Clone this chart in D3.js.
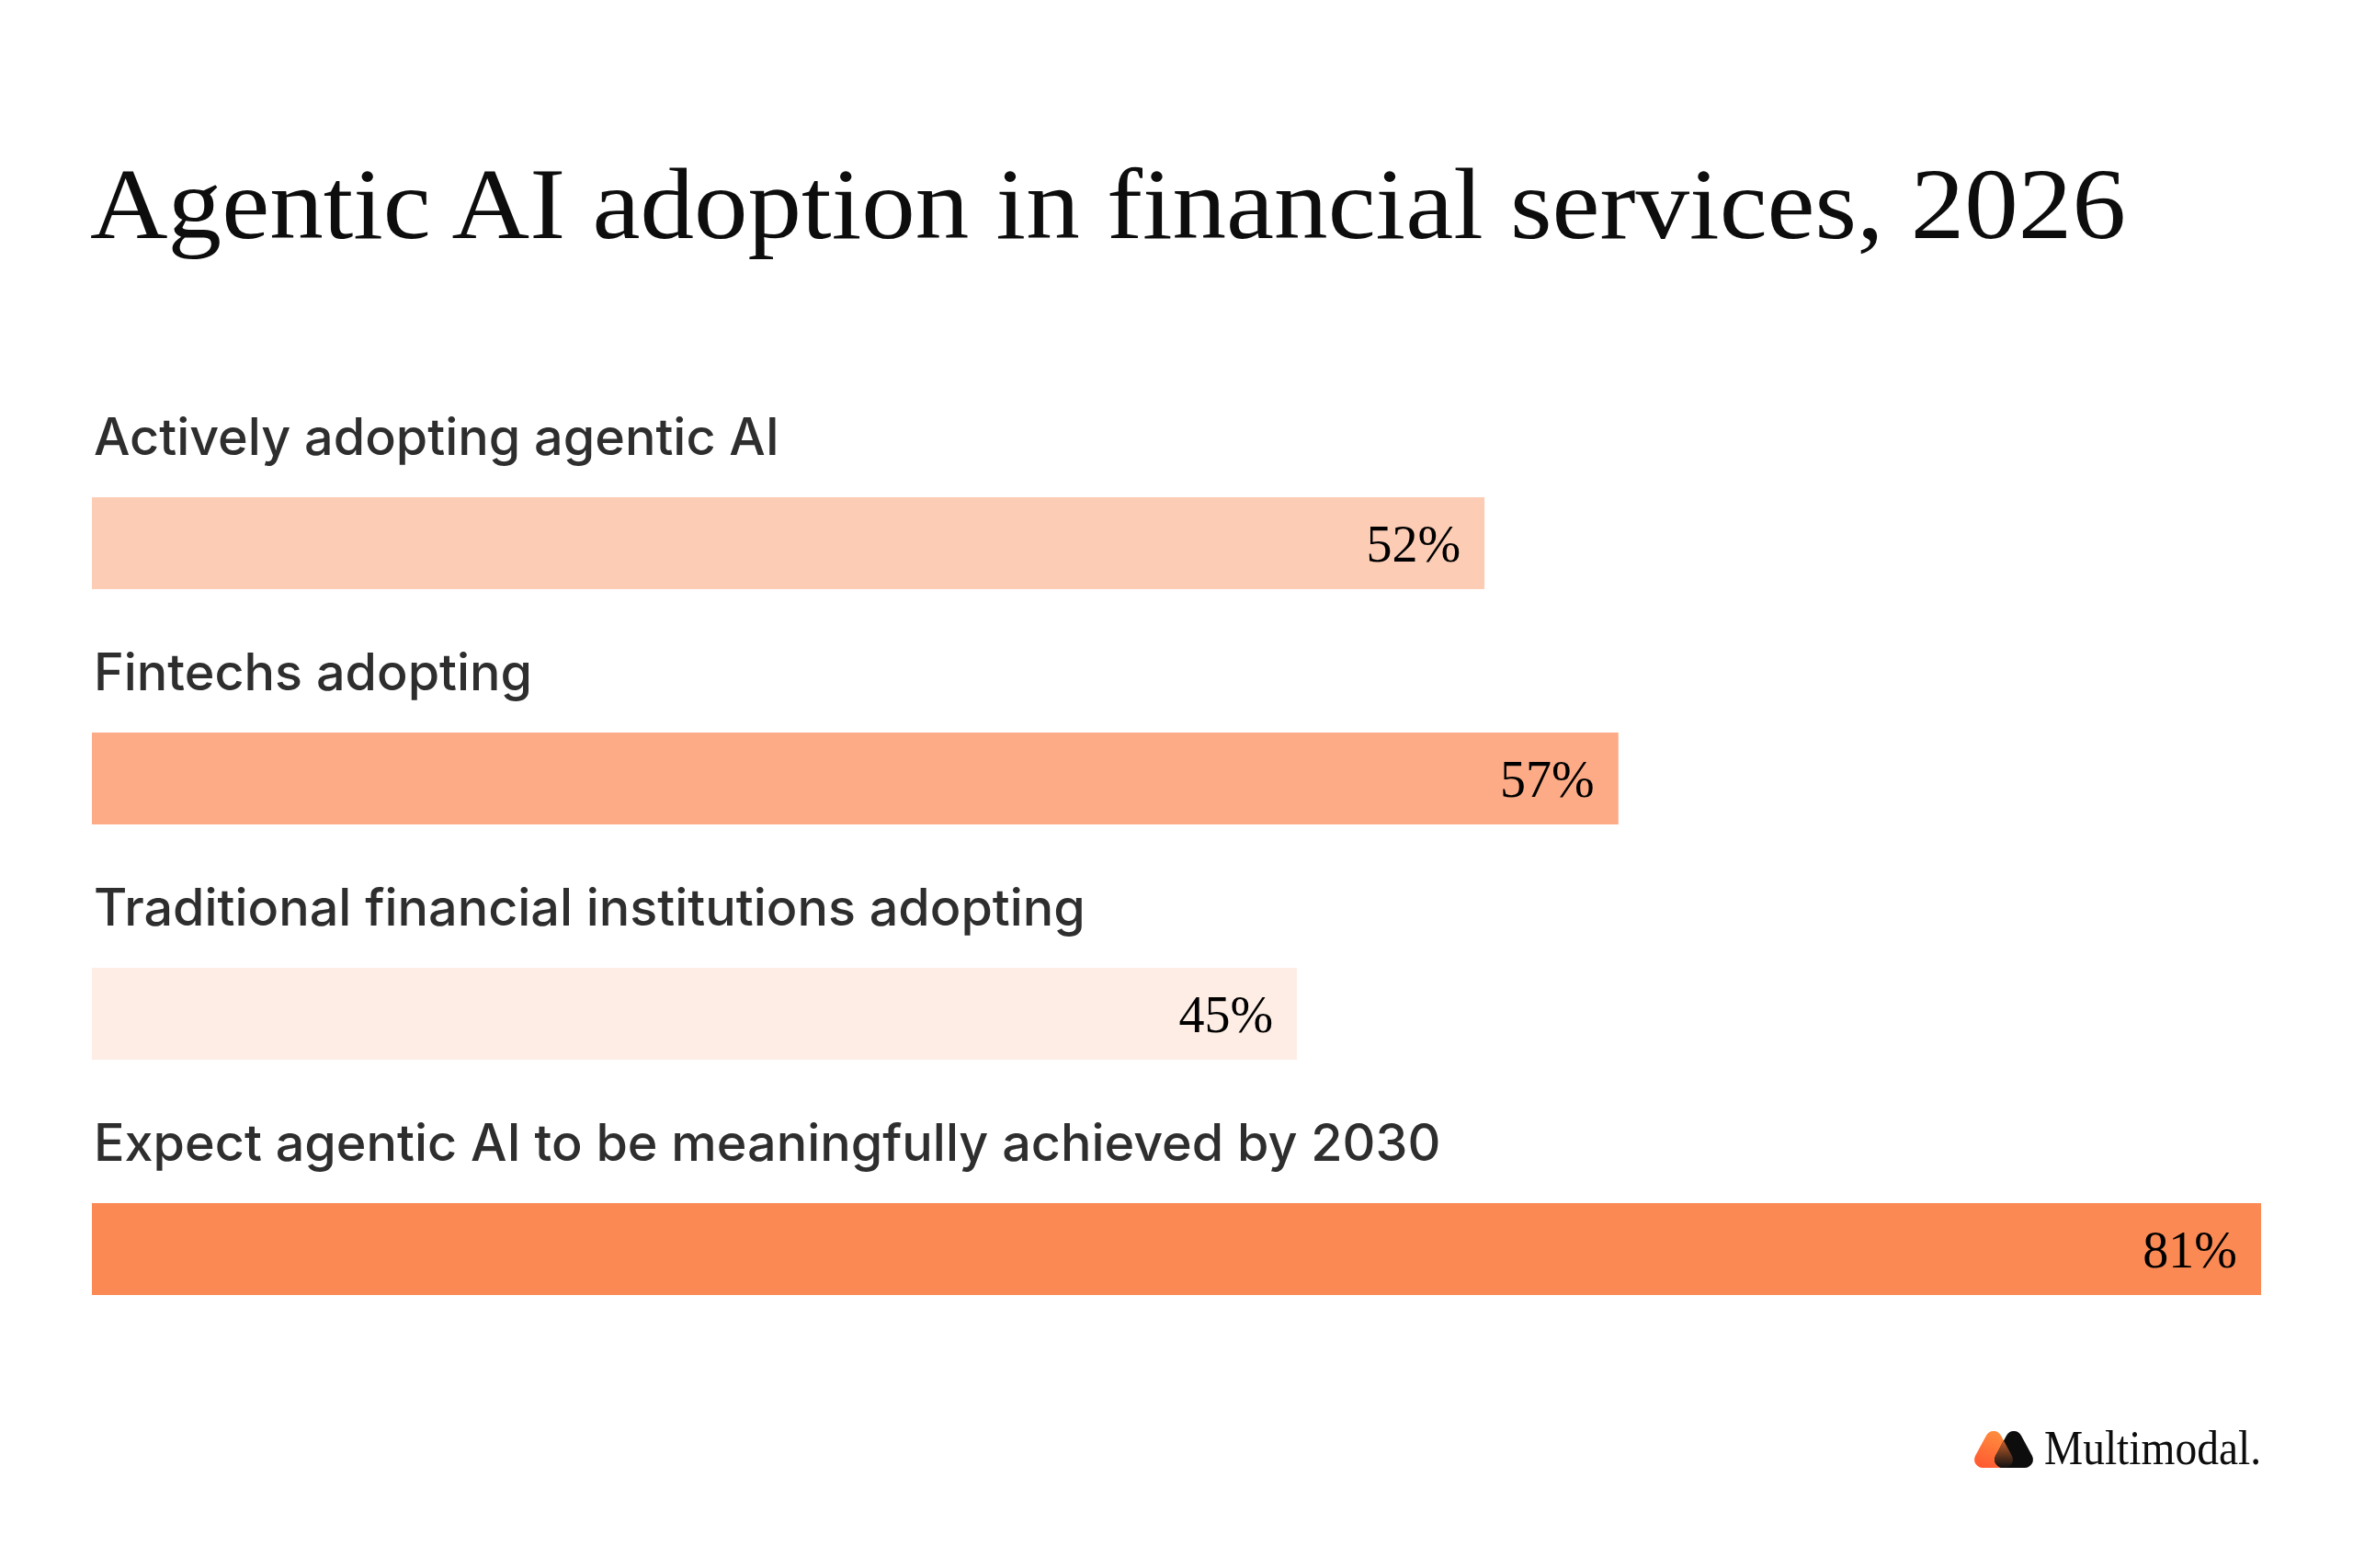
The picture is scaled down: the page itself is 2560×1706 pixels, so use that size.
<!DOCTYPE html>
<html>
<head>
<meta charset="utf-8">
<script src="https://cdn.jsdelivr.net/npm/d3@7"></script>
<style>
  html, body { margin: 0; padding: 0; background: #ffffff; }
  svg { display: block; }
</style>
</head>
<body>
<div id="chart"></div>
<script>
// chart data
const categories = [
  "Actively adopting agentic AI",
  "Fintechs adopting",
  "Traditional financial institutions adopting",
  "Expect agentic AI to be meaningfully achieved by 2030"
];
const values = [52, 57, 45, 81];
const barColors = ["#FCCCB5", "#FCAB86", "#FEEDE5", "#FB8953"];
const titleText = "Agentic AI adoption in financial services, 2026";
const brandText = "Multimodal.";

const W = 2560, H = 1706;
const left = 100;

const svg = d3.select("#chart").append("svg")
  .attr("width", W).attr("height", H)
  .attr("viewBox", `0 0 ${W} ${H}`);

// scales
const x = d3.scaleLinear().domain([0, d3.max(values)]).range([left, 2460]);
const row = d3.scaleBand().domain(categories).range([430, 430 + 256 * categories.length]).paddingInner(0);
const barH = 100;

// title
const title = svg.append("text")
  .attr("x", 98).attr("y", 259)
  .attr("font-family", "'Liberation Serif', serif")
  .attr("font-size", 110)
  .attr("fill", "#0d0d0d")
  .text(titleText);
fitWidth(title, 2215);

// rows
const rows = svg.selectAll("g.row")
  .data(categories.map((c, i) => ({ cat: c, val: values[i], color: barColors[i] })))
  .join("g")
  .attr("class", "row")
  .attr("transform", d => `translate(0,${row(d.cat)})`);

rows.append("text")
  .attr("class", "label")
  .attr("x", 102).attr("y", 65)
  .attr("font-family", "Inter, 'Noto Sans', sans-serif")
  .attr("font-size", 55)
  .attr("font-weight", 500)
  .attr("fill", "#2e2e2e")
  .text(d => d.cat);

rows.append("rect")
  .attr("x", x(0)).attr("y", 111)
  .attr("width", d => x(d.val) - x(0))
  .attr("height", barH)
  .attr("fill", d => d.color);

rows.append("text")
  .attr("x", d => x(d.val) - 26)
  .attr("y", 111 + barH / 2 + 20)
  .attr("text-anchor", "end")
  .attr("font-family", "'Liberation Serif', serif")
  .attr("font-size", 56)
  .attr("fill", "#000")
  .text(d => d.val + "%");

// fit the longest label to the measured width, apply same size to all
const longest = rows.selectAll("text.label").filter(d => d.cat === categories[3]);
const lw = longest.node().getComputedTextLength();
const k = 1466 / lw;
rows.selectAll("text.label").attr("font-size", 55 * Math.min(1.08, Math.max(0.92, k)));

// brand logo
const defs = svg.append("defs");
const grad = defs.append("linearGradient").attr("id", "orangeGrad")
  .attr("x1", 0).attr("y1", 1).attr("x2", 0.4).attr("y2", 0);
grad.append("stop").attr("offset", 0).attr("stop-color", "#FF5630");
grad.append("stop").attr("offset", 1).attr("stop-color", "#FF8A3D");
const mix = defs.append("linearGradient").attr("id", "mixGrad")
  .attr("x1", 0).attr("y1", 0).attr("x2", 0).attr("y2", 1);
mix.append("stop").attr("offset", 0).attr("stop-color", "#FF7A35");
mix.append("stop").attr("offset", 1).attr("stop-color", "#111");

function roundedTri(cx, top, bottom, halfW, r) {
  const p = d3.path();
  const a = [cx, top], b = [cx + halfW, bottom], c = [cx - halfW, bottom];
  p.moveTo((a[0] + c[0]) / 2, (a[1] + c[1]) / 2);
  p.arcTo(a[0], a[1], b[0], b[1], r);
  p.arcTo(b[0], b[1], c[0], c[1], r);
  p.arcTo(c[0], c[1], a[0], a[1], r);
  p.closePath();
  return p.toString();
}

const triL = roundedTri(2169, 1547, 1597, 27, 9);
const triR = roundedTri(2191, 1547, 1597, 27, 9);
defs.append("clipPath").attr("id", "clipL").append("path").attr("d", triL);

svg.append("path").attr("d", triL).attr("fill", "url(#orangeGrad)");
svg.append("path").attr("d", triR).attr("fill", "#0d0d0d");
svg.append("path").attr("d", triR).attr("fill", "url(#mixGrad)").attr("clip-path", "url(#clipL)");

const brand = svg.append("text")
  .attr("x", 2224).attr("y", 1593)
  .attr("font-family", "'Liberation Serif', serif")
  .attr("font-size", 53)
  .attr("fill", "#0d0d0d")
  .text(brandText);
fitWidth(brand, 236);

function fitWidth(sel, target) {
  const w = sel.node().getComputedTextLength();
  if (Math.abs(w - target) / target > 0.01) {
    sel.attr("textLength", target).attr("lengthAdjust", "spacingAndGlyphs");
  }
}
</script>
</body>
</html>
